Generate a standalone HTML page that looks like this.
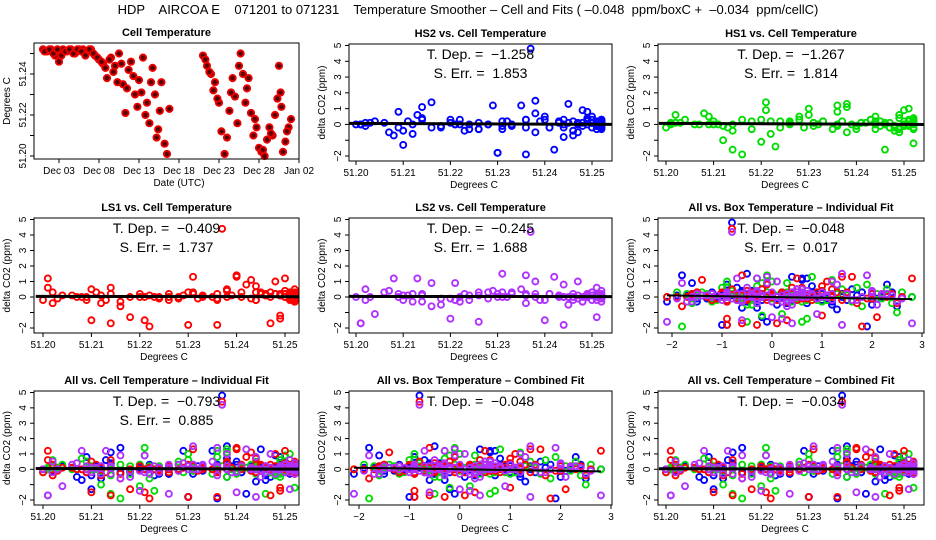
<!DOCTYPE html>
<html><head><meta charset="utf-8"><style>
html,body{margin:0;padding:0;background:#fff}
svg{display:block;font-family:"Liberation Sans",sans-serif}
text{white-space:pre}
</style></head><body>
<svg id="c" width="936" height="540" viewBox="0 0 936 540">
<text x="468" y="14" text-anchor="middle" font-size="13" xml:space="preserve">HDP    AIRCOA E    071201 to 071231    Temperature Smoother – Cell and Fits ( –0.048  ppm/boxC +  –0.034  ppm/cellC)</text>
</svg>
<script>
// ---- data ----
const dayOfMonth=[1.0,1.5,2.0,2.5,3.0,3.5,4.0,4.5,5.0,5.5,6.0,6.5,7.0,7.5,8.0,8.5,9.0,9.5,10.0,10.5,11.0,11.3,11.7,12.0,12.5,13.0,13.5,14.0,14.3,14.7,15.0,15.4,15.8,16.2,16.5,16.8,21.0,21.5,22.0,22.5,23.0,23.3,23.7,24.0,24.3,24.7,25.0,25.3,25.7,26.0,26.3,26.7,27.0,27.3,27.7,28.0,28.3,28.7,29.0,29.3,29.7,30.0,30.3,30.5,30.7,31.0,31.3,31.7,32.0,
 1.2,1.8,2.3,2.8,3.3,3.8,4.3,4.8,5.3,5.8,6.3,6.8,7.3,7.8,8.3,8.8,9.3,9.8,10.3,10.8,11.5,12.3,12.8,13.3,13.8,14.5,15.2,15.6,21.3,21.8,22.3,22.8,24.5,25.5,26.5,27.5,28.5,29.5,30.8,31.5];
const cellTemp=[51.252,51.251,51.252,51.249,51.246,51.252,51.251,51.252,51.250,51.252,51.252,51.251,51.252,51.249,51.247,51.245,51.238,51.248,51.244,51.250,51.235,51.221,51.242,51.246,51.230,51.237,51.248,51.226,51.216,51.243,51.230,51.213,51.236,51.206,51.201,51.223,51.249,51.244,51.240,51.236,51.226,51.212,51.201,51.209,51.222,51.238,51.229,51.216,51.250,51.240,51.226,51.238,51.221,51.210,51.214,51.204,51.202,51.200,51.208,51.214,51.210,51.220,51.228,51.244,51.231,51.202,51.207,51.214,51.218,
 51.251,51.252,51.250,51.252,51.249,51.251,51.252,51.250,51.252,51.251,51.249,51.252,51.250,51.248,51.246,51.243,51.247,51.241,51.236,51.245,51.233,51.239,51.224,51.231,51.220,51.236,51.209,51.222,51.247,51.241,51.232,51.228,51.231,51.244,51.233,51.218,51.203,51.211,51.224,51.212];
const boxTemp=[-1.7,-1.5,-1.2,-0.9,-0.6,-0.3,0.0,0.3,0.5,0.2,-0.2,-0.5,-0.8,-0.4,0.1,0.4,0.8,1.1,1.4,1.0,0.6,0.3,-0.1,-0.5,-0.9,-0.8,-1.6,-2.1,-1.8,-1.4,-1.0,-0.7,-0.3,0.0,0.4,0.7,1.0,1.3,1.6,1.9,2.2,2.5,2.8,2.3,1.8,1.2,0.7,0.3,-0.2,-0.6,-0.9,-0.5,-0.1,0.3,0.6,0.9,0.5,0.1,-0.3,-0.6,-0.2,0.2,0.6,1.0,1.4,1.7,2.0,2.4,2.1,
 -1.6,-1.3,-1.0,-0.7,-0.4,-0.1,0.2,0.4,0.6,-0.3,-0.6,-0.9,-0.2,0.0,0.3,0.6,0.9,1.2,0.8,0.4,-0.3,-0.7,-1.1,-1.5,-1.9,-1.2,-0.5,0.2,1.1,1.5,2.0,2.6,2.0,0.5,-0.4,0.4,0.7,-0.4,1.2,2.2];
const hs2=[0.1,-0.1,0.2,0.8,-0.7,0.3,0.1,-0.2,0.5,0.0,0.2,-0.3,0.1,0.4,-0.5,1.3,0.7,-0.1,0.0,0.3,1.2,0.0,-1.6,0.2,-1.8,4.8,0.9,-0.3,1.4,0.1,-1.8,0.6,-0.2,0.1,0.0,-0.4,0.2,-0.8,0.5,-1.9,0.1,-0.6,0.0,0.8,0.3,-0.5,1.2,-0.2,0.1,0.3,-0.3,1.5,0.0,-0.4,1.1,0.2,-0.1,0.0,-0.7,0.4,-1.3,0.3,0.0,-0.2,0.2,0.1,-0.5,0.3,-0.1,
 0.2,-0.1,0.1,-0.2,0.3,0.0,-0.3,0.1,0.2,-0.1,0.0,0.3,-0.2,0.1,-0.4,0.2,0.0,-0.2,0.3,0.1,-0.1,0.2,0.0,-0.3,0.1,0.3,-0.2,0.0,0.1,-0.2,0.2,0.0,-0.1,0.3,0.0,-0.2,0.1,0.2,-0.3,0.0];
const hs1=[0.2,0.0,-0.3,0.6,0.1,-0.2,1.0,0.3,-0.1,0.2,-1.2,0.0,0.4,-0.5,0.1,0.2,1.3,-0.2,0.5,0.0,-0.3,0.9,0.1,-1.6,1.0,0.2,-0.4,0.0,-1.9,0.3,0.6,-0.2,1.2,0.0,0.1,-1.4,0.4,0.2,-0.3,0.8,0.1,-1.0,0.0,0.5,-0.6,1.1,-0.2,0.3,0.9,-0.1,0.2,-0.5,1.4,0.0,-1.6,0.3,0.1,-0.2,0.7,0.0,0.2,-1.1,0.5,-0.3,0.1,0.6,0.0,-0.4,0.2,
 -0.1,0.2,0.0,0.1,-0.2,0.3,0.1,-0.1,0.0,0.2,-0.3,0.1,0.2,-0.1,0.0,0.3,-0.2,0.1,0.0,-0.1,0.2,0.0,-0.2,0.1,0.3,-0.1,0.0,0.2,-0.2,0.1,0.0,0.3,-0.1,0.0,0.2,-0.3,0.1,0.0,0.2,-0.1];
const ls1=[0.0,0.3,-0.2,-1.4,0.2,0.1,0.0,-0.3,1.2,0.2,0.1,-0.1,0.5,0.2,-1.7,0.3,0.0,1.0,-0.2,0.4,0.0,-1.5,0.8,0.1,-1.8,4.4,0.2,0.0,-0.6,1.1,0.3,-0.2,-1.8,0.1,0.6,0.0,-1.2,0.3,1.3,-0.1,0.2,-0.4,1.2,0.0,-1.9,0.5,0.1,-0.3,0.2,1.4,-0.2,0.4,0.0,-1.5,0.6,0.1,0.3,-0.2,0.0,-1.7,0.5,0.2,-0.1,0.7,1.3,-0.4,0.0,0.2,-1.3,
 0.1,0.0,0.2,-0.1,0.1,-0.2,0.3,0.0,-0.1,0.2,0.1,-0.3,0.0,0.2,0.1,-0.1,0.3,0.0,-0.2,0.2,0.0,0.1,-0.1,0.3,0.0,0.2,-0.2,0.1,0.0,0.3,-0.1,0.0,0.2,-0.2,0.1,0.0,-0.1,0.3,0.0,0.1];
const ls2=[-0.3,0.2,0.0,0.1,-0.2,0.4,-1.3,0.0,0.3,0.1,0.0,0.6,-0.1,0.2,1.0,-0.5,0.2,0.0,-1.8,0.3,0.5,-0.2,1.3,0.0,0.2,4.2,-0.3,-1.6,0.9,0.1,0.0,1.2,-0.4,0.3,-1.7,0.2,0.0,0.8,-0.2,1.4,0.1,-0.3,-1.7,0.2,0.0,1.0,0.4,-0.6,0.1,-1.5,0.3,0.0,0.9,-0.2,0.2,-1.1,0.5,0.0,1.2,-0.3,0.1,-1.4,0.3,0.0,1.5,-0.2,0.4,0.1,-0.5,
 0.0,0.1,-0.2,0.2,0.0,0.1,-0.1,0.3,0.0,-0.2,0.2,0.0,0.1,-0.3,0.2,0.0,-0.1,0.2,0.1,0.0,0.3,-0.2,0.1,0.0,-0.1,0.2,0.0,-0.3,0.1,0.2,0.0,-0.1,0.3,0.0,0.2,-0.1,0.0,0.1,-0.2,0.2];
const dateTicks=[3,8,13,18,23,28,33];
const dateTickLabels=["Dec 03","Dec 08","Dec 13","Dec 18","Dec 23","Dec 28","Jan 02"];
const cellTicks=[51.20,51.21,51.22,51.23,51.24,51.25];
const boxTicks=[-2,-1,0,1,2,3];
const deltaTicks=[-2,-1,0,1,2,3,4,5];
const deltaTickLabels=["\u22122","","0","1","2","3","4","5"];
const fitSlopes=[-1.258,-1.267,-0.409,-0.245,-0.048,-0.793,-0.048,-0.034];
const fitErrors=[1.853,1.814,1.737,1.688,0.017,0.885];

const svg=document.getElementById('c');
const NS='http://www.w3.org/2000/svg';
function mk(tag,attrs,parent){const e=document.createElementNS(NS,tag);for(const k in attrs)e.setAttribute(k,attrs[k]);(parent||svg).appendChild(e);return e;}
function fmt(v){return (v<0?'\u2212':'')+Math.abs(v).toFixed(3);}

const colBox=[[34,299],[349,612],[658,924]];
const rowBox=[[44,161],[218,333],[391,505]];
const cellPix=[[43,285],[356,592],[666,904]];
const boxPix=[[0,0],[359,611],[672,922]];
const COLORS={hs2:'#0000ff',hs1:'#00dd00',ls1:'#ff0000',ls2:'#b030ff'};
const series={hs2:hs2,hs1:hs1,ls1:ls1,ls2:ls2};

function linScale(v0,p0,v1,p1){return v=>p0+(v-v0)*(p1-p0)/(v1-v0);}

function frame(g,x0,x1,y0,y1,title){
  const r=mk('rect',{x:x0,y:y0,width:x1-x0,height:y1-y0,fill:'none',stroke:'#000','stroke-width':1},g);
  
  
  const t=mk('text',{x:(x0+x1)/2,y:y0-7,'text-anchor':'middle','font-size':11,'font-weight':'bold'},g);
  t.textContent=title;
  
  
}
function xAxis(g,ticks,labels,sx,y1,title){
  ticks.forEach((v,i)=>{
    const x=sx(v);
    mk('line',{x1:x,x2:x,y1:y1,y2:y1+4,stroke:'#000'},g);
    const t=mk('text',{x:x,y:y1+15,'text-anchor':'middle','font-size':10},g);
    t.textContent=labels[i];
    
    
  });
  const t=mk('text',{x:(sx(ticks[0])+sx(ticks[ticks.length-1]))/2,y:y1+27,'text-anchor':'middle','font-size':10},g);
  t.textContent=title;
  
  
}
function yAxis(g,ticks,labels,sy,x0,title,y0,y1){
  ticks.forEach((v,i)=>{
    const y=sy(v);
    mk('line',{x1:x0-4,x2:x0,y1:y,y2:y,stroke:'#000'},g);
    if(labels[i]){
      const t=mk('text',{x:x0-8,y:y,'text-anchor':'middle','font-size':10,transform:`rotate(-90 ${x0-8} ${y})`},g);
      t.textContent=labels[i];
      
      
    }
  });
  const cy=(y0+y1)/2;
  const t=mk('text',{x:x0-24,y:cy,'text-anchor':'middle','font-size':10,transform:`rotate(-90 ${x0-24} ${cy})`},g);
  t.textContent=title;
  
  
}
function pts(g,xs,ys,sx,sy,color,name,r){
  for(let i=0;i<Math.min(xs.length,ys.length);i++){
    const c=mk('circle',{cx:sx(xs[i]),cy:sy(ys[i]),r:r||3,fill:'none',stroke:color,'stroke-width':1.9},g);
    
    
  }
}

// Panel 1: cell temperature time series
(function(){
  const g=mk('g',{});  
  const [x0,x1]=colBox[0]; const y0=43,y1=159;
  const sx=linScale(3,59,33,299); const sy=linScale(51.20,156,51.24,74);
  for(let i=0;i<Math.min(dayOfMonth.length,cellTemp.length);i++){
    const c=mk('circle',{cx:sx(dayOfMonth[i]),cy:sy(cellTemp[i]),r:3.2,fill:'#500',stroke:'#ee0000','stroke-width':1.8},g);
    
    
  }
  frame(g,x0,x1,y0,y1,'Cell Temperature');
  xAxis(g,dateTicks,dateTickLabels,sx,y1,'Date (UTC)');
  yAxis(g,[51.20,51.21,51.22,51.23,51.24,51.25],["51.20","","51.22","","51.24",""],sy,x0,'Degrees C',y0,y1);
})();

const panels=[
 {col:1,row:0,title:'HS2 vs. Cell Temperature',keys:['hs2'],x:'cell',slope:0,err:0},
 {col:2,row:0,title:'HS1 vs. Cell Temperature',keys:['hs1'],x:'cell',slope:1,err:1},
 {col:0,row:1,title:'LS1 vs. Cell Temperature',keys:['ls1'],x:'cell',slope:2,err:2},
 {col:1,row:1,title:'LS2 vs. Cell Temperature',keys:['ls2'],x:'cell',slope:3,err:3},
 {col:2,row:1,title:'All vs. Box Temperature \u2013 Individual Fit',keys:['hs2','hs1','ls1','ls2'],x:'box',slope:4,err:4},
 {col:0,row:2,title:'All vs. Cell Temperature \u2013 Individual Fit',keys:['hs2','hs1','ls1','ls2'],x:'cell',slope:5,err:5},
 {col:1,row:2,title:'All vs. Box Temperature \u2013 Combined Fit',keys:['hs2','hs1','ls1','ls2'],x:'box',slope:6,err:-1},
 {col:2,row:2,title:'All vs. Cell Temperature \u2013 Combined Fit',keys:['hs2','hs1','ls1','ls2'],x:'cell',slope:7,err:-1}
];
panels.forEach(p=>{
  const g=mk('g',{});
  
  
  const [x0,x1]=colBox[p.col]; const [y0,y1]=rowBox[p.row];
  const sy=linScale(5,y0+1.5,-2,y1-5);
  let sx,xs,ticks,labels;
  if(p.x==='cell'){const cp=cellPix[p.col];sx=linScale(51.20,cp[0],51.25,cp[1]);xs=cellTemp;ticks=cellTicks;labels=cellTicks.map(v=>v.toFixed(2));}
  else{const bp=boxPix[p.col];sx=linScale(-2,bp[0],3,bp[1]);xs=boxTemp;ticks=boxTicks;labels=boxTicks.map(v=>v<0?'\u2212'+(-v):String(v));}
  p.keys.forEach(k=>pts(g,xs,series[k],sx,sy,COLORS[k],k+'-point',3));
  const b=fitSlopes[p.slope];
  let xa,xb,xm;
  if(p.x==='cell'){xa=51.1985;xb=51.2542;xm=51.23;}else{xa=-2.1;xb=2.8;xm=-0.6;}
  const ln=mk('line',{x1:Math.max(sx(xa),x0),x2:Math.min(sx(xb),x1),y1:sy(0.03+b*(xa-xm)),y2:sy(0.03+b*(xb-xm)),stroke:'#000','stroke-width':p.keys.length>1&&p.x==='box'?2:3},g);
  
  
  const cx=(x0+x1)/2;
  const t1=mk('text',{x:cx,y:y0+15,'text-anchor':'middle','font-size':14},g);
  t1.textContent='T. Dep. =  '+fmt(b);
  
  
  if(p.err>=0){
    const t2=mk('text',{x:cx,y:y0+34,'text-anchor':'middle','font-size':14},g);
    t2.textContent='S. Err. =  '+fmt(fitErrors[p.err]);
    
    
  }
  frame(g,x0,x1,y0,y1,p.title);
  xAxis(g,ticks,labels,sx,y1,'Degrees C');
  yAxis(g,deltaTicks,deltaTickLabels,sy,x0,'delta CO2 (ppm)',y0,y1);
});
</script>
</body></html>
